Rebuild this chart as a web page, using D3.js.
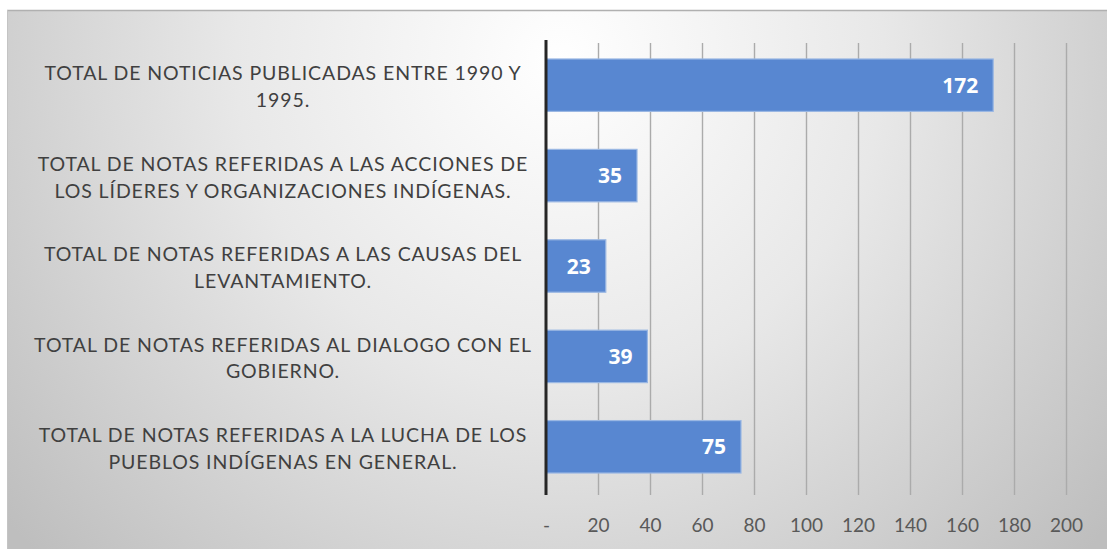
<!DOCTYPE html>
<html>
<head>
<meta charset="utf-8">
<script src="https://cdn.jsdelivr.net/npm/d3@7"></script>
<style>
  html, body { margin: 0; padding: 0; background: #ffffff; }
  svg { display: block; }
</style>
</head>
<body>
<svg id="chart" width="1107" height="549"></svg>
<script>
// ---- Data ----
const categories = [
  ["TOTAL DE NOTICIAS PUBLICADAS ENTRE 1990 Y", "1995."],
  ["TOTAL DE NOTAS REFERIDAS A LAS ACCIONES DE", "LOS LÍDERES Y ORGANIZACIONES INDÍGENAS."],
  ["TOTAL DE NOTAS REFERIDAS A LAS CAUSAS DEL", "LEVANTAMIENTO."],
  ["TOTAL DE NOTAS REFERIDAS AL DIALOGO CON EL", "GOBIERNO."],
  ["TOTAL DE NOTAS REFERIDAS A LA LUCHA DE LOS", "PUEBLOS INDÍGENAS EN GENERAL."]
];
const values = [172, 35, 23, 39, 75];
const tickValues = [0, 20, 40, 60, 80, 100, 120, 140, 160, 180, 200];
const tickLabels = ["-", "20", "40", "60", "80", "100", "120", "140", "160", "180", "200"];

// ---- Layout ----
const W = 1107, H = 549;
const plot = { left: 546, right: 1066, top: 40, bottom: 492 };
const svg = d3.select("#chart");
const defs = svg.append("defs");

const grad = defs.append("radialGradient")
  .attr("id", "bg").attr("gradientUnits", "userSpaceOnUse")
  .attr("cx", 560).attr("cy", 60).attr("r", 720);
grad.append("stop").attr("offset", "0%").attr("stop-color", "#ffffff");
grad.append("stop").attr("offset", "45%").attr("stop-color", "#e8e8e8");
grad.append("stop").attr("offset", "100%").attr("stop-color", "#bebebe");

svg.append("rect").attr("x", 7).attr("y", 10).attr("width", W - 7).attr("height", H - 10)
  .attr("fill", "url(#bg)");
svg.append("line").attr("x1", 7).attr("x2", W).attr("y1", 10.5).attr("y2", 10.5)
  .attr("stroke", "#b0b0b0").attr("stroke-width", 1.5);
svg.append("line").attr("x1", 7.5).attr("x2", 7.5).attr("y1", 10).attr("y2", H)
  .attr("stroke", "#c4c4c4").attr("stroke-width", 1);

const x = d3.scaleLinear().domain([0, 200]).range([plot.left, plot.right]);
const y = d3.scaleBand().domain(d3.range(categories.length))
  .range([plot.top, plot.bottom]).paddingInner(0.42).paddingOuter(0.21);

// gridlines with tick extension
const xAxis = d3.axisBottom(x).tickValues(tickValues)
  .tickSize(-(plot.bottom - plot.top))
  .tickFormat((d, i) => tickLabels[i]);
const gx = svg.append("g").attr("transform", `translate(0,${plot.bottom + 3})`).call(xAxis);
gx.select(".domain").remove();
gx.selectAll(".tick line").attr("stroke", "#ababab").attr("stroke-width", 1.4)
  .attr("y1", 0);
gx.selectAll(".tick text")
  .attr("y", 24)
  .attr("fill", "#595959")
  .attr("font-family", "Lato, 'Open Sans', sans-serif")
  .attr("font-size", 19);
gx.selectAll(".tick").filter(d => d === 0).select("line").remove();

// bars
svg.append("g").selectAll("rect").data(values).join("rect")
  .attr("x", x(0))
  .attr("y", (d, i) => y(i))
  .attr("width", d => x(d) - x(0))
  .attr("height", y.bandwidth())
  .attr("fill", "#5887d1")
  .attr("stroke", "#9ab7e3")
  .attr("stroke-width", 1.2);

// value labels
svg.append("g").selectAll("text").data(values).join("text")
  .attr("x", d => x(d) - 15)
  .attr("y", (d, i) => y(i) + y.bandwidth() / 2)
  .attr("dy", "0.36em")
  .attr("text-anchor", "end")
  .attr("fill", "#ffffff")
  .attr("font-family", "'Open Sans', Lato, sans-serif")
  .attr("font-weight", "bold")
  .attr("font-size", 21)
  .text(d => d);

// y axis line
svg.append("line")
  .attr("x1", x(0)).attr("x2", x(0))
  .attr("y1", plot.top).attr("y2", plot.bottom + 3)
  .attr("stroke", "#262626").attr("stroke-width", 3);

// category labels
const lab = svg.append("g").selectAll("text").data(categories).join("text")
  .attr("text-anchor", "middle")
  .attr("fill", "#404040")
  .attr("font-family", "Lato, 'Open Sans', sans-serif")
  .attr("font-size", 19.5)
  .attr("letter-spacing", "0.9px")
  .attr("x", 283)
  .attr("y", (d, i) => y(i) + y.bandwidth() / 2 + 2);
lab.selectAll("tspan").data(d => d).join("tspan")
  .attr("x", 283)
  .attr("dy", (d, j) => j === 0 ? "-0.35em" : "1.38em")
  .text(d => d);
</script>
</body>
</html>
